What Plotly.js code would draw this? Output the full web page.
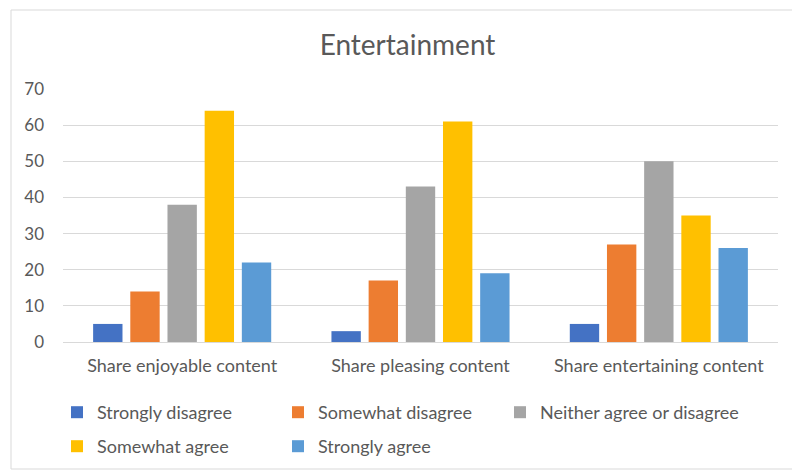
<!DOCTYPE html>
<html><head><meta charset="utf-8">
<script src="https://cdn.plot.ly/plotly-3.0.1.min.js"></script>
<style>html,body{margin:0;padding:0;background:#fff}#c{width:792px;height:471px}</style>
</head><body><div id="c"></div>
<script>
const categories = ["Share enjoyable content", "Share pleasing content", "Share entertaining content"];
const seriesNames = ["Strongly disagree", "Somewhat disagree", "Neither agree or disagree", "Somewhat agree", "Strongly agree"];
const stronglyDisagree = [5, 3, 5];
const somewhatDisagree = [14, 17, 27];
const neither = [38, 43, 50];
const somewhatAgree = [64, 61, 35];
const stronglyAgree = [22, 19, 26];
const colors = ["#4472C4", "#ED7D31", "#A5A5A5", "#FFC000", "#5B9BD5"];
const yTicks = [0, 10, 20, 30, 40, 50, 60, 70];

const values = [stronglyDisagree, somewhatDisagree, neither, somewhatAgree, stronglyAgree];
const legendIds = ["legend", "legend", "legend3", "legend2", "legend2"];
const FONT = "Lato, 'Open Sans', sans-serif";
const traces = values.map((v, i) => ({
  type: "bar", x: categories, y: v, name: seriesNames[i],
  marker: {color: colors[i]}, legend: legendIds[i],
  hoverinfo: "y"
}));
const legBase = {orientation: "h", yanchor: "top", xanchor: "left",
  x: -6/715, entrywidth: 176, entrywidthmode: "pixels",
  font: {family: FONT, size: 18, color: "#595959"}, bgcolor: "rgba(0,0,0,0)",
  traceorder: "normal", itemwidth: 30};
const layout = {
  width: 792, height: 471,
  margin: {l: 63, r: 14, t: 89, b: 129, autoexpand: false},
  paper_bgcolor: "#fff", plot_bgcolor: "#fff",
  title: {text: "Entertainment", x: 407.5/792, xref: "container", xanchor: "center",
    y: 0.905, yanchor: "middle",
    font: {family: FONT, size: 28, color: "#595959"}},
  font: {family: FONT, color: "#595959"},
  bargap: 0.22, bargroupgap: 0.21,
  xaxis: {type: "category", showgrid: false, showline: true, linecolor: "#D9D9D9", linewidth: 1,
    tickfont: {family: FONT, size: 18, color: "#595959"}, ticks: "", ticklabelstandoff: 7},
  yaxis: {range: [0, 70], tickvals: yTicks, ticktext: yTicks.map(String), showgrid: true,
    gridcolor: "#D9D9D9", gridwidth: 1, zeroline: false, showline: false, ticks: "",
    tickfont: {family: FONT, size: 17, color: "#595959"}, ticklabelstandoff: 18},
  legend: Object.assign({}, legBase, {y: -52/253}),
  legend2: Object.assign({}, legBase, {y: -86/253}),
  legend3: Object.assign({}, legBase, {y: -52/253, x: 437/715, entrywidth: 240}),
  shapes: [{type: "rect", xref: "paper", yref: "paper", x0: -52/715, x1: 1 + 30/715,
    y0: -127/253, y1: 332/253, line: {color: "#D9D9D9", width: 1}, layer: "below"}],
  showlegend: true
};
Plotly.newPlot("c", traces, layout, {displayModeBar: false, staticPlot: true});
</script></body></html>
